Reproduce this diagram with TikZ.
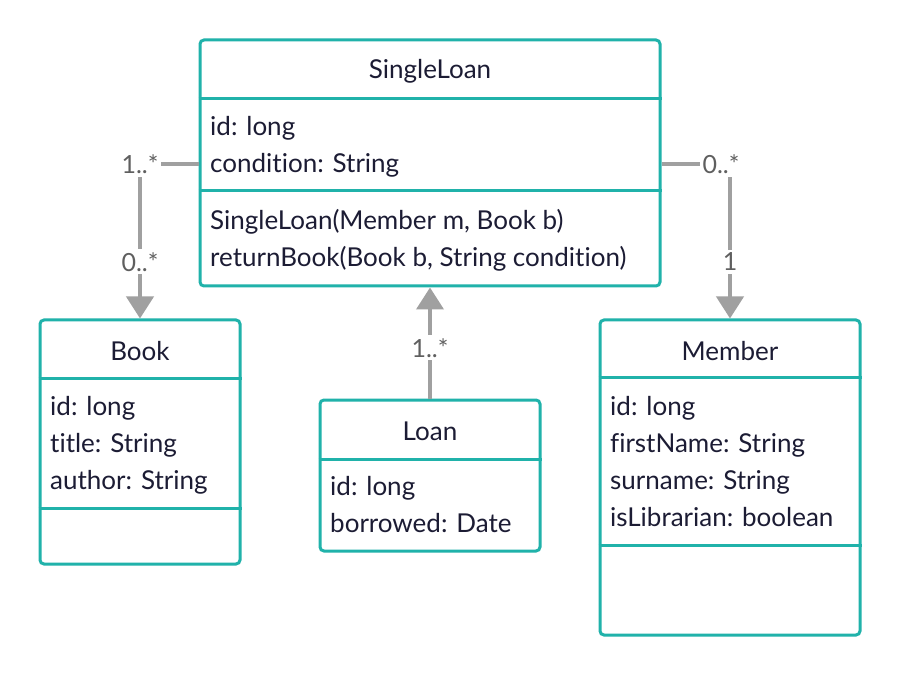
\documentclass[tikz,border=0pt]{standalone}
\usepackage{fontspec}
\setmainfont{Lato}[Ligatures=CommonOff]
\usepackage{xcolor}
\usetikzlibrary{positioning,arrows.meta,calc}
\definecolor{boxteal}{RGB}{32,178,170}
\definecolor{ink}{RGB}{28,28,52}
\definecolor{linkgray}{RGB}{160,160,160}
\definecolor{multgray}{RGB}{95,95,95}

\begin{document}
\begin{tikzpicture}[x=1pt,y=-1pt,>={Triangle[length=22pt,width=27pt]},
  umlbox/.style={draw=boxteal,line width=3pt,rounded corners=4pt,inner sep=0pt},
  divider/.style={draw=boxteal,line width=3pt},
  head/.style={text=ink,font=\fontsize{26}{30}\selectfont},
  attrs/.style={text=ink,font=\fontsize{26}{37}\selectfont,align=left,anchor=north west,inner sep=0pt},
  link/.style={draw=linkgray,line width=4pt},
  mult/.style={fill=white,text=multgray,font=\fontsize{25}{28}\selectfont,inner sep=3pt}]
\useasboundingbox[fill=white] (0,0) rectangle (900,676);

% SingleLoan
\node[umlbox,minimum width=460pt,minimum height=246pt] (single) at (430,163) {};
\draw[divider] (single.west |- 0,99) -- (single.east |- 0,99);
\draw[divider] (single.west |- 0,191) -- (single.east |- 0,191);
\node[head] (singleT) at (430,71) {SingleLoan};
\node[attrs] (singleA) at (210,116) {id: long\\condition: String};
\node[attrs] (singleO) at (210,209) {SingleLoan(Member m, Book b)\\returnBook(Book b, String condition)};

% Book
\node[umlbox,minimum width=200pt,minimum height=244pt] (book) at (140,442) {};
\draw[divider] (book.west |- 0,379) -- (book.east |- 0,379);
\draw[divider] (book.west |- 0,508) -- (book.east |- 0,508);
\node[head] (bookT) at (140,351) {Book};
\node[attrs] (bookA) at (50,396) {id: long\\title: String\\author: String};

% Loan
\node[umlbox,minimum width=220pt,minimum height=151pt] (loan) at (430,475.5) {};
\draw[divider] (loan.west |- 0,459) -- (loan.east |- 0,459);
\node[head] (loanT) at (430,431) {Loan};
\node[attrs] (loanA) at (330,476) {id: long\\borrowed: Date};

% Member
\node[umlbox,minimum width=260pt,minimum height=315pt] (member) at (730,477.5) {};
\draw[divider] (member.west |- 0,378) -- (member.east |- 0,378);
\draw[divider] (member.west |- 0,545) -- (member.east |- 0,545);
\node[head] (memberT) at (730,351) {Member};
\node[attrs] (memberA) at (610,396) {id: long\\firstName: String\\surname: String\\isLibrarian: boolean};

% associations
\draw[link,->] (single.west |- 0,164) -| (book.north)
  node[mult,pos=0.5] (m1) {1..*}
  node[mult,pos=0.817] (m2) {0..*};
\draw[link,->] (single.east |- 0,164) -| (member.north)
  node[mult,pos=0.5,xshift=-9pt] (m3) {0..*}
  node[mult,pos=0.817] (m4) {1};
\draw[link,->] (loan.north) -- (single.south)
  node[mult,pos=0.456] (m5) {1..*};
\end{tikzpicture}
\end{document}
